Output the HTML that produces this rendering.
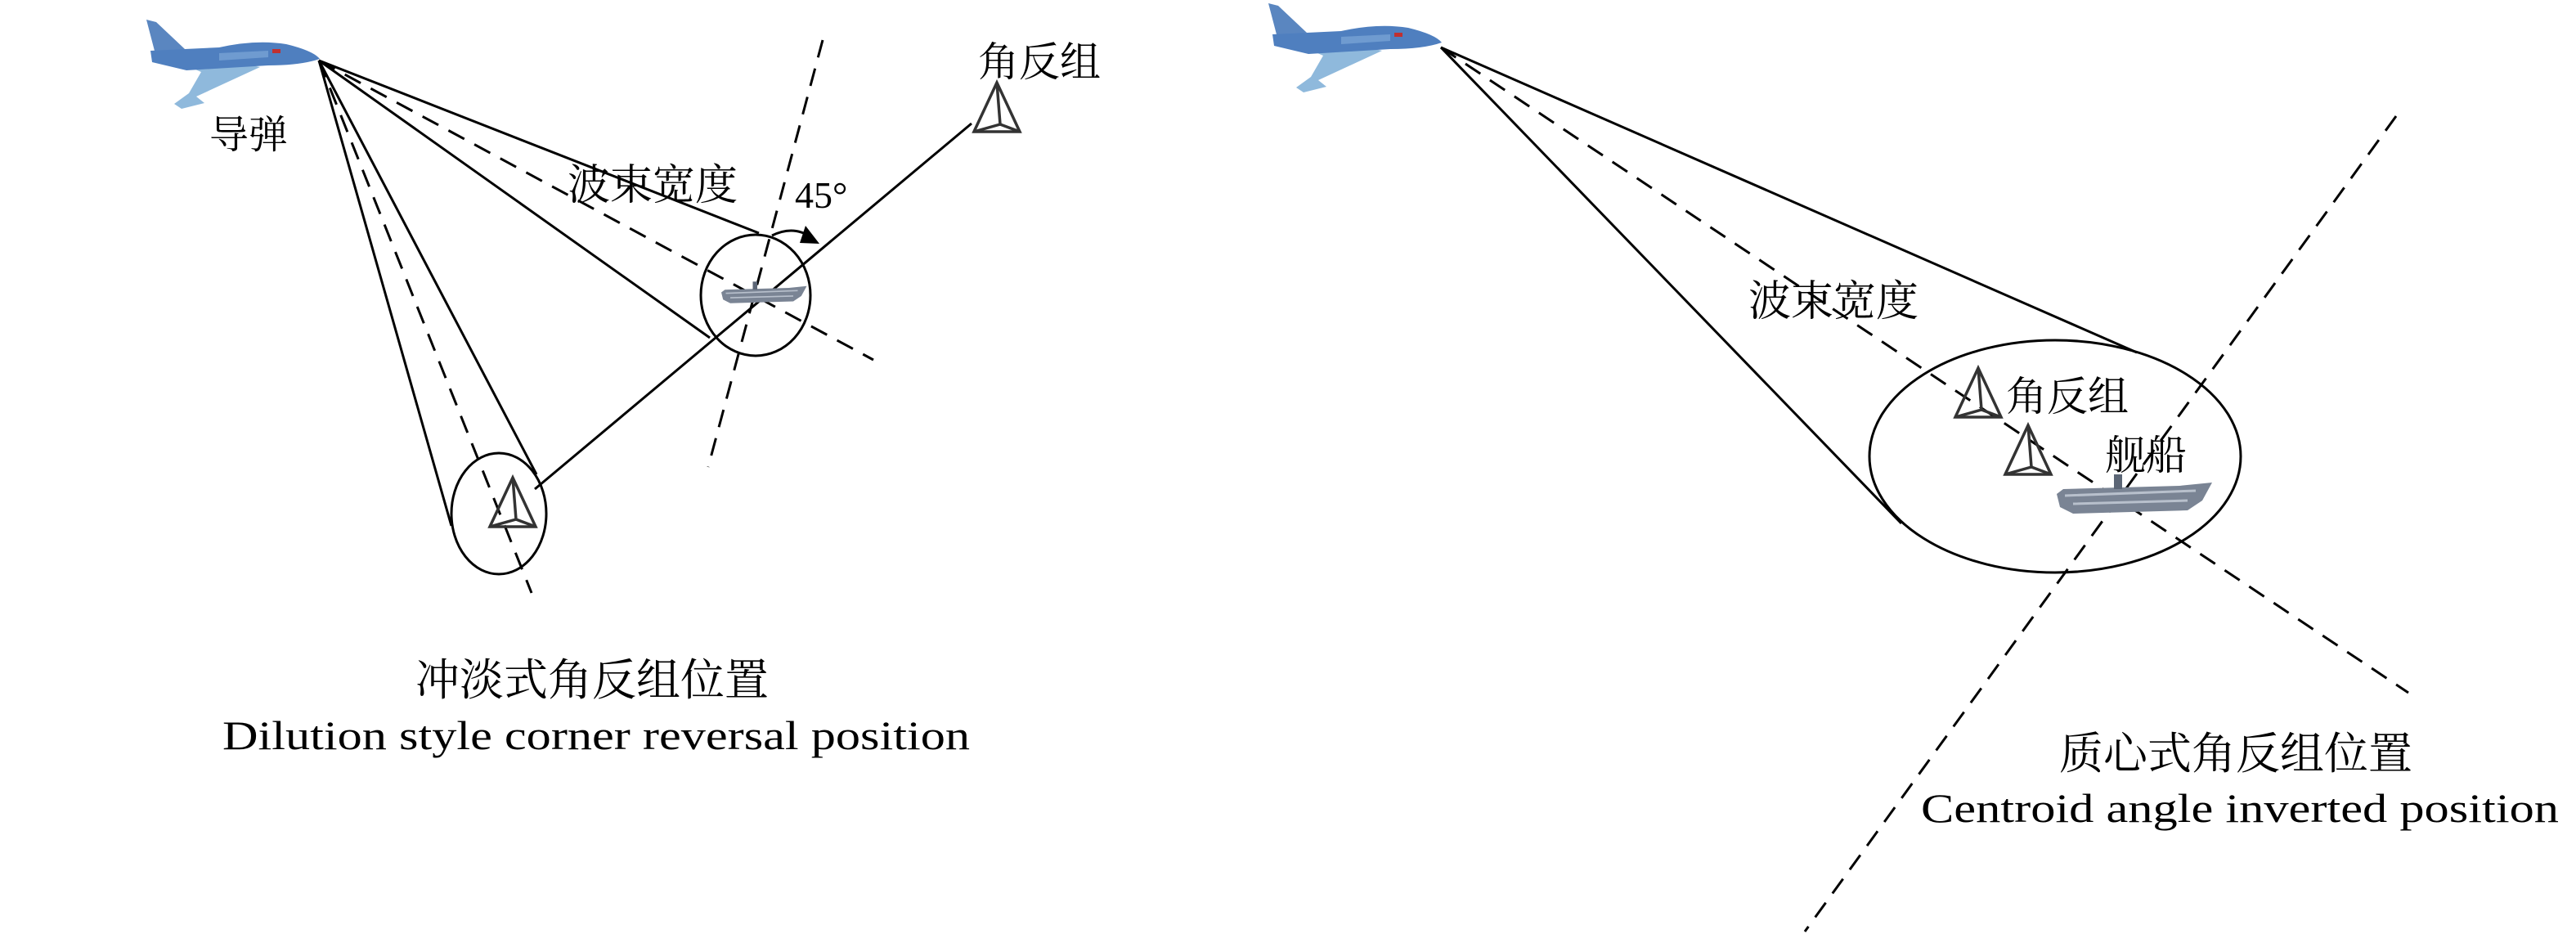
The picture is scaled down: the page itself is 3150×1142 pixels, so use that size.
<!DOCTYPE html>
<html><head><meta charset="utf-8"><style>
html,body{margin:0;padding:0;background:#fff}
svg{display:block}
text{font-family:"Liberation Serif","Noto Serif CJK SC","Noto Sans CJK SC",serif;fill:#000}
</style></head><body>
<svg width="3150" height="1142" viewBox="0 0 3150 1142" xmlns="http://www.w3.org/2000/svg">
<defs>
<g id="plane">
<polygon points="1551,4 1563,7 1598,40 1562,46" fill="#5a86c0"/>
<polygon points="1572,48 1645,52 1690,62 1612,98 1622,106 1594,113 1585,107 1603,94 1618,68" fill="#8fb9dc"/>
<path d="M1556,42 L1640,38 Q1685,28 1722,34 Q1755,42 1763,52 Q1740,60 1700,60 L1600,66 L1558,56 Z" fill="#4f7fbf"/>
<path d="M1640,45 L1700,42 L1700,50 L1640,54 Z" fill="#6f9bd0"/>
<rect x="1705" y="40" width="10" height="5" fill="#c03030"/>
</g>
<g id="tri" fill="none" stroke="#333" stroke-width="3.5">
<polygon points="0,-30 -28,30 28,30"/>
<polyline points="0,-30 4,21 -28,30"/><line x1="4" y1="21" x2="28" y2="30"/>
</g>
<g id="ship">
<path d="M0,10 L8,4 L150,0 L190,-4 L178,18 L160,30 L20,34 L4,26 Z" fill="#7a8494"/>
<path d="M10,12 L170,6 M20,22 L160,18" stroke="#b8c0cc" stroke-width="3"/>
<rect x="70" y="-14" width="10" height="18" fill="#5c6676"/>
</g>
</defs>

<g stroke="#000" stroke-width="3" fill="none">
<line x1="390" y1="74" x2="928" y2="285"/>
<line x1="390" y1="74" x2="868" y2="413"/>
<line x1="390" y1="74" x2="552" y2="643"/>
<line x1="390" y1="74" x2="656" y2="580"/>
<line x1="654" y1="598" x2="1188" y2="151"/>
<g stroke-dasharray="22,14">
<line x1="390" y1="74" x2="1068" y2="440"/>
<line x1="390" y1="74" x2="650" y2="725"/>
<line x1="1006" y1="49" x2="866" y2="571"/>
</g>
<ellipse cx="924" cy="361" rx="67" ry="74"/>
<ellipse cx="610" cy="628" rx="58" ry="74"/>
<path d="M944,288 Q970,275 992,290"/>
<line x1="1762" y1="58" x2="2613" y2="431"/>
<line x1="1762" y1="58" x2="2325" y2="640"/>
<g stroke-dasharray="22,14">
<line x1="1762" y1="58" x2="2945" y2="847"/>
<line x1="2930" y1="142" x2="2207" y2="1139"/>
</g>
<ellipse cx="2513" cy="558" rx="227" ry="142"/>
<path d="M2580,598 L2600,618 M2600,598 L2580,618"/>
</g>
<polygon points="985,276 1002,298 978,297" fill="#000"/>

<use href="#plane" transform="translate(-1372,20)"/>
<use href="#plane"/>

<use href="#ship" transform="translate(882,352) scale(0.55)"/>
<use href="#ship" transform="translate(2515,594)"/>

<use href="#tri" transform="translate(1219,131)"/>
<use href="#tri" transform="translate(627,614)"/>
<use href="#tri" transform="translate(2419,480)"/>
<use href="#tri" transform="translate(2480,550)"/>

<text x="256" y="181" font-size="48">导弹</text>
<text x="1196" y="93" font-size="50">角反组</text>
<text x="694" y="244" font-size="52">波束宽度</text>
<text x="972" y="254" font-size="46">45°</text>
<text x="508" y="850" font-size="54">冲淡式角反组位置</text>
<text x="272" y="916" font-size="50" textLength="914" lengthAdjust="spacingAndGlyphs">Dilution style corner reversal position</text>

<text x="2138" y="386" font-size="52">波束宽度</text>
<text x="2453" y="502" font-size="50">角反组</text>
<text x="2574" y="574" font-size="50">舰船</text>
<text x="2518" y="940" font-size="54">质心式角反组位置</text>
<text x="2349" y="1005" font-size="50" textLength="780" lengthAdjust="spacingAndGlyphs">Centroid angle inverted position</text>
</svg>
</body></html>
